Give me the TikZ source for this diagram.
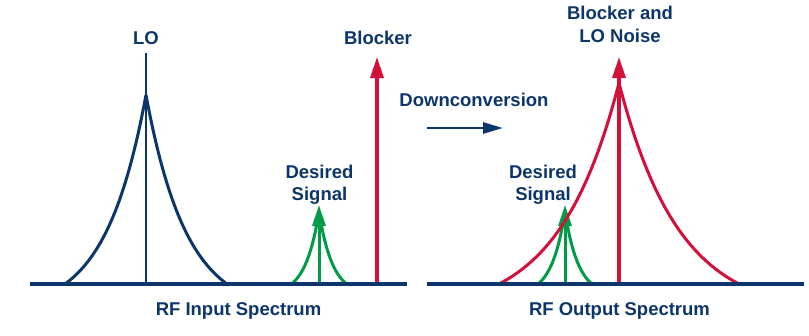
\documentclass[tikz,border=0pt]{standalone}
\usepackage{fontspec}
\setmainfont{Liberation Sans}
\usetikzlibrary{arrows.meta}
\definecolor{navy}{RGB}{12,54,105}
\definecolor{adired}{RGB}{210,16,58}
\definecolor{adigreen}{RGB}{0,156,72}
\tikzset{
  lbl/.style={font=\bfseries\fontsize{18.5}{22}\selectfont, text=navy, anchor=base, inner sep=0pt},
  axisline/.style={draw=navy, line width=3.4pt},
  spec/.style={line width=3pt, line join=round},
  spike/.style={line width=3.3pt, -{Triangle[length=21pt,width=13pt]}},
}
% #1 colour, #2 centre x, #3 half width, #4 height
\newcommand{\specpeak}[4]{%
  \draw[spec, #1] plot[domain=-1:1, samples=81]
    ({#2+#3*\x},{284-#4*(exp(-2*abs(\x))-exp(-2))/(1-exp(-2))});
}
\begin{document}
\begin{tikzpicture}[x=1pt, y=-1pt]
\useasboundingbox (0,0) rectangle (809,335);

% ---------- left panel: RF input ----------
\coordinate (loB) at (146,284);
\coordinate (loT) at (146,53);
\coordinate (blB) at (377,284);
\coordinate (blT) at (377,57);
\coordinate (dsB) at (319,284);
\coordinate (dsT) at (319,205);

\specpeak{navy}{146}{81}{189}
\draw[navy, line width=2.8pt] (loB) -- (loT);

\specpeak{adigreen}{319}{27.5}{72}
\draw[spike, adigreen, line width=3pt] (dsB) -- (dsT);

\draw[spike, adired] (blB) -- (blT);

\coordinate (axL1) at (30,284);
\coordinate (axL2) at (407,284);
\draw[axisline] (axL1) -- (axL2);

\node[lbl] (lo) at (146,44) {LO};
\node[lbl] (blocker) at (378,44) {Blocker};
\node[lbl] (des1) at (319.5,178) {Desired};
\node[lbl] (sig1) at (319.5,200) {Signal};
\node[lbl] (inlbl) at (238.5,315) {RF Input Spectrum};

% ---------- middle: downconversion ----------
\node[lbl] (down) at (474,106) {Downconversion};
\coordinate (dcA) at (427,128);
\coordinate (dcB) at (503,128);
\draw[navy, line width=2.8pt, -{Triangle[length=20pt,width=11pt]}] (dcA) -- (dcB);

% ---------- right panel: RF output ----------
\coordinate (dsRB) at (565,284);
\coordinate (dsRT) at (565,205);
\coordinate (bnB) at (619,284);
\coordinate (bnT) at (619,57);

\specpeak{adigreen}{565}{27}{72}
\draw[spike, adigreen, line width=3pt] (dsRB) -- (dsRT);

\specpeak{adired}{619}{120}{201}
\draw[spike, adired] (bnB) -- (bnT);

\coordinate (axR1) at (427,284);
\coordinate (axR2) at (804,284);
\draw[axisline] (axR1) -- (axR2);

\node[lbl] (bl2a) at (620,19.5) {Blocker and};
\node[lbl] (bl2b) at (620,42) {LO Noise};
\node[lbl] (des2) at (543,178) {Desired};
\node[lbl] (sig2) at (543,200) {Signal};
\node[lbl] (outlbl) at (619.5,315) {RF Output Spectrum};
\end{tikzpicture}
\end{document}
